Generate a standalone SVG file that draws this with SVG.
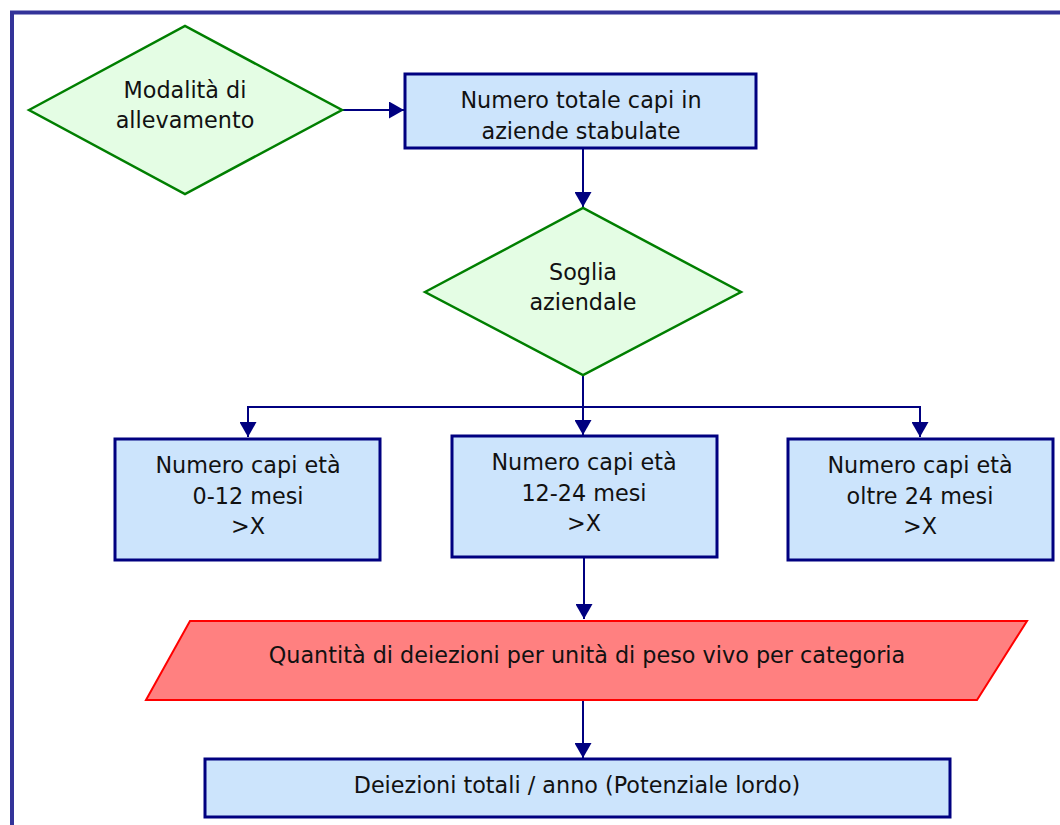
<svg xmlns="http://www.w3.org/2000/svg" width="1060" height="825" viewBox="0 0 1060 825">
  <defs>
    <style>
      .frame { fill: none; stroke: #333399; stroke-width: 4; }
      .box { fill: #cce4fc; stroke: #000080; stroke-width: 3; }
      .dia { fill: #e4fde4; stroke: #007f00; stroke-width: 2.5; }
      .para { fill: #ff8080; stroke: #ff0000; stroke-width: 2; }
      .conn { fill: none; stroke: #000080; stroke-width: 2; }
      text { font-family: "DejaVu Sans", "Liberation Sans", sans-serif; font-size: 22.3px; fill: #111111; text-anchor: middle; }
    </style>
    <marker id="arr" markerUnits="userSpaceOnUse" markerWidth="16" markerHeight="17" refX="15" refY="8.5" orient="auto">
      <path d="M0,0 L15,8.5 L0,17 z" fill="#000080"/>
    </marker>
  </defs>
  <rect width="1060" height="825" fill="#ffffff"/>
  <rect class="frame" x="12" y="12.5" width="1070" height="840"/>

  <g id="connectors">
    <line class="conn" x1="342" y1="110" x2="404" y2="110" marker-end="url(#arr)"/>
    <line class="conn" x1="583" y1="148" x2="583" y2="207" marker-end="url(#arr)"/>
    <polyline class="conn" points="583,375 583,407"/>
    <polyline class="conn" points="248,436 248,407 920,407 920,436"/>
    <line class="conn" x1="248" y1="407" x2="248" y2="437" marker-end="url(#arr)"/>
    <line class="conn" x1="583" y1="407" x2="583" y2="435" marker-end="url(#arr)"/>
    <line class="conn" x1="920" y1="407" x2="920" y2="437" marker-end="url(#arr)"/>
    <line class="conn" x1="584" y1="557" x2="584" y2="619" marker-end="url(#arr)"/>
    <line class="conn" x1="583" y1="700" x2="583" y2="758" marker-end="url(#arr)"/>
  </g>

  <g id="node-modalita">
    <polygon class="dia" points="29,110 185,26 342,110 185,194"/>
    <text x="185" y="98">Modalità di</text>
    <text x="185" y="128">allevamento</text>
  </g>

  <g id="node-totale">
    <rect class="box" x="405" y="74" width="351" height="74"/>
    <text x="581" y="108">Numero totale capi in</text>
    <text x="581" y="139">aziende stabulate</text>
  </g>

  <g id="node-soglia">
    <polygon class="dia" points="425,292 583,208 741,292 583,375"/>
    <text x="583" y="280">Soglia</text>
    <text x="583" y="310">aziendale</text>
  </g>

  <g id="node-0-12">
    <rect class="box" x="115" y="439" width="265" height="121"/>
    <text x="248" y="473">Numero capi età</text>
    <text x="248" y="504">0-12 mesi</text>
    <text x="248" y="534">&gt;X</text>
  </g>

  <g id="node-12-24">
    <rect class="box" x="452" y="436" width="265" height="121"/>
    <text x="584" y="470">Numero capi età</text>
    <text x="584" y="501">12-24 mesi</text>
    <text x="584" y="531">&gt;X</text>
  </g>

  <g id="node-oltre-24">
    <rect class="box" x="788" y="439" width="265" height="121"/>
    <text x="920" y="473">Numero capi età</text>
    <text x="920" y="504">oltre 24 mesi</text>
    <text x="920" y="534">&gt;X</text>
  </g>

  <g id="node-quantita">
    <polygon class="para" points="190,621 1027,621 977,700 146,700"/>
    <text x="587" y="663">Quantità di deiezioni per unità di peso vivo per categoria</text>
  </g>

  <g id="node-deiezioni">
    <rect class="box" x="205" y="759" width="745" height="58"/>
    <text x="577" y="793">Deiezioni totali / anno (Potenziale lordo)</text>
  </g>
</svg>
